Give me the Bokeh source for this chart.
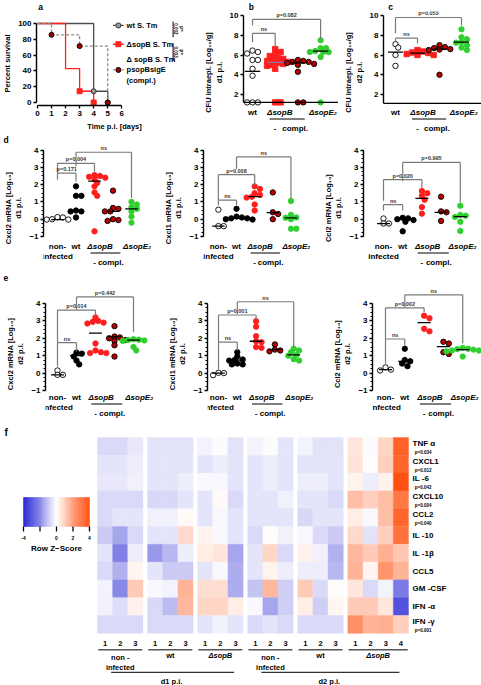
import math
from bokeh.plotting import figure
from bokeh.models import (Range1d, FixedTicker, Span, LinearColorMapper, ColumnDataSource)
from bokeh.layouts import column, row
from bokeh.embed import file_html
from bokeh.resources import INLINE
from bokeh.core.properties import value

FONT = "Liberation Sans"

# ---------------- a: survival ----------------
A_WT_DAYS = [0, 4, 5]
A_WT_SURV = [100, 14.3, 0]
A_SOPB_DAYS = [0, 2, 3, 4]
A_SOPB_SURV = [100, 42.9, 14.3, 0]
A_COMPL_DAYS = [0, 1, 3, 5]
A_COMPL_SURV = [100, 85.7, 71.4, 0]
A_LEGEND = ["wt S. Tm", "ΔsopB S. Tm", "Δ sopB S. Tm\npsopBsigE\n(compl.)"]
A_PVALUES = ["p=\n0.002", "p=\n0.013"]

# ---------------- b / c: CFU ----------------
BC_CATS = ["wt", "ΔsopB", "compl.", "ΔsopE₂"]
B_LOD = 1.2
B_WT = [6.45, 6.3, 6.15, 5.5, 5.5, 4.6, 3.9, 1.2, 1.2, 1.2]
B_SOPB = [6.6, 6.3, 6.1, 5.9, 5.7, 5.6, 5.5, 5.4, 5.3, 5.2, 5.1, 5.0, 4.9, 4.6, 1.2, 1.2]
B_COMPL = [5.5, 5.4, 5.3, 5.3, 5.2, 5.1, 5.0, 4.3, 1.2, 1.2]
B_SOPE2 = [7.5, 6.7, 6.7, 6.4, 6.3, 6.3, 6.3, 5.8, 1.2]
B_CENTER = [4.35, 5.25, 5.2, 6.4]
B_BRACKETS = [("ns", 1, 2, 8.2, 7.3, 6.9), ("p=0.082", 1, 4, 9.6, 9.0, 7.6)]

C_LOD = 1.1
C_WT = [7.1, 6.75, 6.0, 4.9]
C_SOPB = [6.5, 6.35, 6.25, 6.2, 6.1, 6.0, 6.0]
C_COMPL = [7.0, 6.8, 6.7, 6.6, 6.55, 6.5, 4.0]
C_SOPE2 = [8.6, 7.8, 7.6, 7.3, 7.25, 7.0, 6.75, 6.5]
C_CENTER = [6.3, 6.2, 6.6, 7.3]
C_BRACKETS = [("ns", 1, 2, 7.7, 7.3, 7.2), ("p=0.053", 1, 4, 9.8, 8.2, 9.0)]

# ---------------- d / e: mRNA ----------------
DE_CATS = ["non-\ninfected", "wt", "ΔsopB", "compl.", "ΔsopE₂"]

D1_NI = [0.12, 0.1, 0.0, -0.02, -0.02]
D1_WT = [1.9, 1.35, 1.35, 0.5, 0.45, 0.45, 0.1]
D1_SOPB = [2.55, 2.5, 2.45, 2.4, 2.3, 2.1, 1.9, 1.55, 1.35, -0.7]
D1_COMPL = [1.65, 0.65, 0.6, 0.45, 0.45, 0.0, -0.05, -0.1]
D1_SOPE2 = [1.0, 0.85, 0.7, 0.6, 0.45, 0.15, -0.2]
D1_CENTER = [-0.02, 0.45, 2.2, 0.45, 0.6]
D1_BRACKETS = [("p=0.171", 1, 2, 2.66, 2.28, 2.18), ("p=0.004", 1, 3, 3.23, 2.66, 2.75),
               ("ns", 2, 5, 3.87, 3.04, 1.22)]

D2_NI = [0.55, -0.4, -0.4]
D2_WT = [0.6, 0.15, 0.1, 0.05, 0.05, 0.0, -0.02]
D2_SOPB = [1.9, 1.75, 1.5, 1.4, 1.3, 1.25, 0.85, 0.5]
D2_COMPL = [1.55, 0.4, 0.3, 0.0]
D2_SOPE2 = [1.05, 0.25, 0.1, 0.08, 0.0, -0.55, -0.55]
D2_CENTER = [-0.4, 0.05, 1.3, 0.38, 0.08]
D2_BRACKETS = [("ns", 1, 2, 1.1, 0.8, 0.8), ("p=0.008", 1, 3, 2.58, 1.1, 1.96),
               ("ns", 2, 5, 3.6, 2.9, 1.2)]

D3_NI = [0.04, -0.25, -0.25]
D3_WT = [0.08, 0.05, 0.0, -0.05, -0.15, -0.7]
D3_SOPB = [1.63, 1.5, 1.35, 1.12, 0.7, 0.32]
D3_COMPL = [1.3, 0.45, 0.4, -0.1]
D3_SOPE2 = [0.78, 0.25, 0.2, 0.13, -0.15, -0.68]
D3_CENTER = [-0.25, 0.0, 1.2, 0.4, 0.15]
D3_BRACKETS = [("ns", 1, 2, 0.84, 0.5, 0.5), ("p=0.020", 1, 3, 2.29, 1.07, 1.82),
               ("p=0.995", 2, 5, 3.28, 2.2, 0.98)]

E1_NI = [0.15, -0.1, -0.1]
E1_WT = [1.18, 1.12, 0.95, 0.72, 0.5]
E1_SOPB = [3.2, 3.0, 2.95, 2.9, 2.85, 1.7, 1.3, 1.2, 1.15, 1.15]
E1_COMPL = [2.7, 2.1, 2.05, 2.0, 1.9, 1.85, 1.6, 0.95]
E1_SOPE2 = [1.95, 1.92, 1.9, 1.88, 1.85, 1.5, 1.3]
E1_CENTER = [-0.1, 1.0, 2.3, 2.1, 1.9]
E1_BRACKETS = [("ns", 1, 2, 1.75, 0.38, 1.24), ("p=0.014", 1, 3, 3.62, 1.75, 3.28),
               ("p=0.442", 2, 5, 4.38, 3.62, 2.38)]

E2_NI = [0.02, 0.0, -0.12]
E2_WT = [1.2, 0.95, 0.78, 0.75, 0.72, 0.55, 0.5, 0.5]
E2_SOPB = [2.98, 2.67, 2.12, 1.83, 1.78, 1.5, 1.45]
E2_COMPL = [1.65, 1.35, 1.3, 1.25]
E2_SOPE2 = [1.4, 1.3, 1.2, 1.05, 1.0, 0.8, 0.72]
E2_CENTER = [0.0, 0.75, 1.83, 1.35, 1.05]
E2_BRACKETS = [("ns", 1, 2, 1.78, 0.2, 1.3), ("p=0.001", 1, 3, 3.34, 1.78, 3.1),
               ("ns", 2, 5, 4.1, 3.4, 1.5)]

E3_NI = [0.33, 0.15, 0.2]
E3_WT = [1.4, 0.75, 0.68, 0.55, 0.4]
E3_SOPB = [3.3, 3.15, 2.55, 2.4]
E3_COMPL = [1.8, 1.7, 1.2, 1.1]
E3_SOPE2 = [1.45, 1.4, 1.38, 1.35, 1.3, 1.3, 1.25, 0.95]
E3_CENTER = [0.2, 0.67, 2.9, 1.52, 1.35]
E3_BRACKETS = [("ns", 1, 2, 1.96, 0.55, 1.6), ("p=0.002", 1, 3, 3.75, 1.96, 3.5),
               ("ns", 2, 5, 4.5, 3.75, 1.7)]

# ---------------- f: heatmap ----------------
ROW_LABELS = ["TNF α", "CXCL1", "IL -6", "CXCL10", "CCL2", "IL -10", "IL -1β", "CCL5",
              "GM -CSF", "IFN -α", "IFN -γ"]
ROW_PVALUES = ["p=0.034", "p=0.012", "p=0.042", "p=0.004", "p=0.040", "", "", "", "", "",
               "p=0.001"]
GROUP_NAMES = ["non -\ninfected", "wt", "ΔsopB", "non -\ninfected", "wt", "ΔsopB"]
GROUP_SIZES = [3, 3, 3, 3, 3, 4]
DAY_LABELS = ["d1  p.i.", "d2  p.i."]
DAY_GROUPS = [[0, 1, 2], [3, 4, 5]]
Z_TNFA = [-0.6, -0.6, -0.4, -0.5, -0.5, -0.5, -0.2, -0.05, -0.5, -0.2, -0.05, -0.45, -0.2, -0.5, -0.5, 0.5, -0.05, 0.9, 3.4]
Z_CXCL1 = [-0.45, -0.45, -0.3, -0.45, -0.45, -0.45, -0.45, -0.3, -0.45, -0.45, -0.3, -0.45, -0.45, -0.45, -0.45, 0.6, 0.05, 1.0, 3.3]
Z_IL6 = [-0.4, -0.4, -0.25, -0.45, -0.45, -0.3, -0.1, -0.1, -0.45, -0.45, -0.3, -0.45, -0.3, -0.3, -0.45, 0.25, -0.3, 0.3, 3.7]
Z_CXCL10 = [-0.6, -0.6, -0.6, -0.65, -0.65, -0.45, -0.45, 0.1, -0.6, -0.45, -0.45, -0.25, -0.45, -0.45, -0.6, 1.4, 1.0, 1.4, 2.9]
Z_CCL2 = [-0.6, -0.45, -0.45, -0.25, -0.25, 0.1, -0.45, -0.1, -0.45, -0.45, -0.45, -0.45, -0.65, -0.45, -0.45, 0.4, -0.1, 1.4, 3.3]
Z_IL10 = [-0.9, -1.5, -0.6, -0.45, -0.45, 0.8, 0.25, -0.1, -0.45, -0.6, 0.05, -0.25, -0.1, -0.6, -0.9, 0.8, -0.5, 1.0, 3.0]
Z_IL1B = [-0.45, -2.1, -0.3, -1.7, -1.2, -0.3, 0.4, 0.55, -1.5, -0.45, 0.9, -0.6, 0.3, -0.25, -1.3, 1.5, 1.1, 1.7, 1.2]
Z_CCL5 = [-0.6, -1.3, 0.2, -0.45, -0.9, -0.9, -0.45, -0.1, -1.4, -0.45, 0.25, -0.3, -0.3, -0.3, -1.2, 1.6, 0.2, 2.3, 1.6]
Z_GMCSF = [-0.2, -2.0, 1.1, -0.1, -0.2, 1.6, 0.7, 0.7, -1.4, -1.0, 1.5, -0.8, 1.1, -0.6, 0.05, 0.5, -0.6, -0.2, -2.2]
Z_IFNA = [-0.25, -0.55, 0.3, -0.65, -1.1, 1.5, 0.9, 0.9, 0.4, -0.1, -1.5, -0.8, 0.4, -0.8, 0.2, 1.1, 1.1, 0.5, -2.9]
Z_IFNG = [-0.6, -0.6, -0.6, -0.6, -0.6, -0.6, -0.45, -0.25, -0.45, -0.6, -0.45, -0.6, -0.6, -0.6, -0.6, 2.4, 1.6, 1.7, 1.0]
Z_ROWS = [Z_TNFA, Z_CXCL1, Z_IL6, Z_CXCL10, Z_CCL2, Z_IL10, Z_IL1B, Z_CCL5, Z_GMCSF, Z_IFNA, Z_IFNG]
CB_TICKS = [-4, -2, 0, 2, 4]
CB_LABELS = ["-4", "", "0", "2", "4"]

# ---------------- styles ----------------
MS = 5.4
STY = {
    "ni": ("circle", "white", "black"),
    "wt": ("circle", "black", "black"),
    "sopB": ("circle", "#ff1e1e", "#ff1e1e"),
    "compl": ("circle", "#b80000", "black"),
    "sopE2": ("circle", "#2fcf2f", "#2fcf2f"),
}


class Geo:
    def __init__(self, W, H, FL, FR, FT, FB, xv, xp, spx, v1, p1, v2, p2):
        self.W, self.H, self.FL, self.FR, self.FT, self.FB = W, H, FL, FR, FT, FB
        self.spx = spx
        self.x0 = xv - (xp - FL) / spx
        self.k = (v1 - v2) / (p2 - p1)
        self.y0 = v1 + (p1 - FT) * self.k

    def dx(self, px):
        return self.x0 + (px - self.FL) / self.spx

    def dy(self, py):
        return self.y0 - (py - self.FT) * self.k


def base_fig(g, x_axis=True):
    kw = {} if x_axis else {"x_axis_location": None}
    p = figure(width=g.W, height=g.H,
               x_range=Range1d(g.dx(g.FL), g.dx(g.W - g.FR)),
               y_range=Range1d(g.dy(g.FB), g.dy(g.FT)),
               output_backend="svg", toolbar_location=None,
               min_border_left=g.FL, min_border_right=g.FR,
               min_border_top=g.FT, min_border_bottom=g.H - g.FB, **kw)
    p.xgrid.visible = False
    p.ygrid.visible = False
    p.outline_line_color = None
    p.background_fill_color = "white"
    p.border_fill_color = "white"
    return p


def style_axis(ax, size="8px", lsize="7.5px"):
    ax.major_label_text_font = FONT
    ax.major_label_text_font_style = "bold"
    ax.major_label_text_font_size = size
    ax.major_label_text_color = "black"
    ax.axis_label_text_font = FONT
    ax.axis_label_text_font_style = "bold"
    ax.axis_label_text_font_size = lsize
    ax.axis_label_text_color = "black"
    ax.axis_line_width = 1.4
    ax.axis_line_color = "black"
    ax.major_tick_line_color = "black"
    ax.major_tick_line_width = 1.3
    ax.minor_tick_line_color = "black"
    ax.major_label_standoff = 2
    ax.axis_label_standoff = 3
    ax.major_tick_in = 0
    ax.major_tick_out = 3
    ax.minor_tick_in = 0
    ax.minor_tick_out = 2


def txt(p, xs, ys, texts, size="6px", align="center", baseline="middle", color="black",
        style="bold", angle=0, **kw):
    p.text(xs, ys, text=texts, text_font=value(FONT), text_font_size=size,
           text_font_style=style, text_align=align, text_baseline=baseline,
           text_color=color, angle=angle, **kw)


def swarm(vals, xc, spx, spy, d=MS):
    order = sorted(range(len(vals)), key=lambda i: -vals[i])
    placed = []
    out = [xc] * len(vals)
    for i in order:
        ypx = vals[i] * spy
        xo = 0.0
        for kk in [0, 1, -1, 2, -2, 3, -3, 4, -4, 5, -5, 6, -6]:
            xo = kk * d * 0.5
            if all((xo - a) ** 2 + (ypx - b) ** 2 >= (d * 0.8) ** 2 for a, b in placed):
                break
        placed.append((xo, ypx))
        out[i] = xc + xo / spx
    return out


def scatter_panel(g, groups, centers, brackets, ylabel, yticks, yminor, ybounds,
                  cats, cat_x, y_lab, ul, dshift, lod=None, center_colors=None):
    p = base_fig(g, x_axis=False)
    if lod is not None:
        p.add_layout(Span(location=lod, dimension="width", line_color="black", line_width=1.4))
    for gi, (xc, vals, key, marker) in enumerate(groups):
        m, fc, lc = STY[key]
        xs = swarm(vals, xc, g.spx, 1.0 / g.k)
        p.scatter(xs, vals, size=MS, marker=marker or m, fill_color=fc, line_color=lc,
                  line_width=0.9)
    cx = [grp[0] for grp in groups]
    cc = center_colors or ["black"] * len(groups)
    p.segment([x - 0.34 for x in cx], centers, [x + 0.34 for x in cx], centers,
              line_color=cc, line_width=1.3)
    # brackets
    x0s, y0s, x1s, y1s, tx, ty, tt = [], [], [], [], [], [], []
    for lab, xa, xb, yt, ya, yb in brackets:
        x0s += [xa, xa, xb]
        y0s += [yt, yt, yt]
        x1s += [xb, xa, xb]
        y1s += [yt, ya, yb]
        tx.append((xa + xb) / 2)
        ty.append(yt + 1.0 * g.k)
        tt.append(lab)
    p.segment(x0s, y0s, x1s, y1s, line_color="#7a7a7a", line_width=1.2)
    txt(p, tx, ty, tt, size="5.5px", baseline="bottom", color="#333333")
    # y axis
    ya_ = p.yaxis[0]
    style_axis(ya_)
    ya_.ticker = FixedTicker(ticks=yticks, minor_ticks=yminor)
    ya_.bounds = ybounds
    ya_.axis_label = ylabel
    # category labels (below the data, drawn through the scales)
    plain = [(cat_x[i], c) for i, c in enumerate(cats) if "Δ" not in c and c != "compl."]
    delta = [(cat_x[i], c) for i, c in enumerate(cats) if "Δ" in c]
    ly = g.dy(y_lab)
    for x, c in plain:
        if "\n" in c:
            txt(p, [x], [g.dy(y_lab - 5)], [c], size="8px", baseline="top")
        else:
            txt(p, [x], [ly], [c], size="8px")
    txt(p, [d[0] + sh for d, sh in zip(delta, dshift)], [ly] * len(delta),
        [d[1] for d in delta], size="8px", style="bold italic")
    # "- compl." line under the deletion mutant
    i_sb = cats.index("ΔsopB")
    i_cp = cats.index("compl.")
    uy = g.dy(y_lab + 6.5)
    p.segment([cat_x[i_sb] + ul[0]], [uy], [cat_x[i_cp] + ul[1]], [uy], line_color="black",
              line_width=1.1)
    cy = g.dy(y_lab + 15.5)
    txt(p, [cat_x[i_sb], cat_x[i_cp] - 0.12], [cy, cy], ["-", cats[i_cp]], size="8px")
    return p


# ================= letter strips =================
SH = 11


def strip(w, letters):
    s = figure(width=w, height=SH, x_range=Range1d(0, w), y_range=Range1d(SH, 0),
               output_backend="svg", toolbar_location=None, x_axis_location=None,
               y_axis_location=None, min_border=0, min_border_left=0, min_border_right=0,
               min_border_top=0, min_border_bottom=0)
    s.xgrid.visible = False
    s.ygrid.visible = False
    s.outline_line_color = None
    txt(s, [l[1] for l in letters], [SH / 2] * len(letters), letters and [l[0] for l in letters],
        size="8.5px", align="left", baseline="middle")
    return s


strip_a = strip(192, [("a", 2)])
strip_b = strip(146, [("b", 8)])
strip_c = strip(143, [("c", 7)])
strip2 = strip(481, [("d", 3)])
strip3 = strip(481, [("e", 3)])

# ================= panel a =================
OY1 = SH
ga = Geo(192, 133 - OY1, 31, 0, 21 - OY1, 106 - OY1, 0, 32, 14.5, 100, 23 - OY1, 0, 103 - OY1)
pa = base_fig(ga)


def km_path(days, surv):
    xs, ys = [days[0]], [surv[0]]
    for i in range(1, len(days)):
        xs += [days[i], days[i]]
        ys += [surv[i - 1], surv[i]]
    return xs, ys


for days, surv, col, dash in [(A_WT_DAYS, A_WT_SURV, "#4d4d4d", "solid"),
                              (A_SOPB_DAYS, A_SOPB_SURV, "#ff2020", "solid"),
                              (A_COMPL_DAYS, A_COMPL_SURV, "#8c8c8c", "3 2")]:
    xs, ys = km_path(days, surv)
    pa.line(xs, ys, line_color=col, line_width=1.3, line_dash=dash)
pa.scatter(A_WT_DAYS[1:], A_WT_SURV[1:], marker="circle", size=5, fill_color="#9a9a9a",
           line_color="#333333", line_width=1)
pa.scatter(A_SOPB_DAYS[2:], A_SOPB_SURV[2:], marker="square", size=5, fill_color="#ff2020",
           line_color="#ff2020")
pa.scatter(A_COMPL_DAYS[1:], A_COMPL_SURV[1:], marker="circle", size=5, fill_color="#a00000",
           line_color="black", line_width=1)
# legend drawn in the frame
leg_y = [ga.dy(25 - OY1), ga.dy(44 - OY1), ga.dy(70 - OY1)]
lx0, lx1, lxm, ltx = ga.dx(110), ga.dx(121), ga.dx(115.5), ga.dx(124)
pa.segment([lx0, lx0], leg_y[:2], [lx1, lx1], leg_y[:2], line_color=["#4d4d4d", "#ff2020"],
           line_width=1.3)
pa.segment([lx0], [leg_y[2]], [lx1], [leg_y[2]], line_color="#8c8c8c", line_width=1.2,
           line_dash="2 1")
pa.scatter([lxm], [leg_y[0]], marker="circle", size=5, fill_color="#9a9a9a", line_color="#333333")
pa.scatter([lxm], [leg_y[1]], marker="square", size=5, fill_color="#ff2020", line_color="#ff2020")
pa.scatter([lxm], [leg_y[2]], marker="circle", size=5, fill_color="#a00000", line_color="black")
txt(pa, [ltx, ltx, ltx], leg_y, A_LEGEND, size="7.5px", align="left")
# p-value bars
bx = ga.dx(172)
pa.segment([bx, bx], [ga.dy(20 - OY1), ga.dy(43 - OY1)], [bx, bx],
           [ga.dy(37 - OY1), ga.dy(61 - OY1)], line_color="black", line_width=1)
txt(pa, [ga.dx(178), ga.dx(178)], [ga.dy(28.5 - OY1), ga.dy(52 - OY1)], A_PVALUES,
    size="4.5px", angle=-math.pi / 2)
style_axis(pa.xaxis[0])
style_axis(pa.yaxis[0])
pa.xaxis.ticker = FixedTicker(ticks=[0, 1, 2, 3, 4, 5, 6])
pa.xaxis.bounds = (0, 6)
pa.yaxis.ticker = FixedTicker(ticks=[0, 20, 40, 60, 80, 100])
pa.yaxis.bounds = (0, 100)
pa.xaxis.axis_label = "Time p.i. [days]"
pa.yaxis.axis_label = "Percent survival"
pa.xaxis.minor_tick_line_color = None
pa.yaxis.minor_tick_line_color = None

# ================= panel b / c =================
BC_X = [1, 2, 3, 4]
gb = Geo(146, 133 - OY1, 51, 0, 0, 133 - OY1, 1, 60, 22.7, 10, 15 - OY1, 2, 94 - OY1)
pb = scatter_panel(gb, [(1, B_WT, "ni", None), (2, B_SOPB, "sopB", "square"),
                        (3, B_COMPL, "compl", None), (4, B_SOPE2, "sopE2", None)],
                   B_CENTER, B_BRACKETS, "CFU intraepi. [Log₁₀/g]\nd1 p.i.",
                   [2, 4, 6, 8, 10], [], (B_LOD, 10), BC_CATS, BC_X, 112 - OY1,
                   (-0.25, 0.3), (0.2, 0.1), lod=B_LOD,
                   center_colors=["black", "#7a7fa8", "black", "black"])

gc = Geo(143, 133 - OY1, 45, 0, 0, 133 - OY1, 1, 57, 22, 10, 15 - OY1, 2, 94 - OY1)
pc = scatter_panel(gc, [(1, C_WT, "ni", None), (2, C_SOPB, "sopB", "square"),
                        (3, C_COMPL, "compl", None), (4, C_SOPE2, "sopE2", None)],
                   C_CENTER, C_BRACKETS, "CFU intraepi. [Log₁₀/g]\nd2 p.i.",
                   [2, 4, 6, 8, 10], [], (C_LOD, 10), BC_CATS, BC_X, 112 - OY1,
                   (-0.25, 0.3), (0.25, 0.1), lod=C_LOD)

# ================= panels d / e =================
YT = [-1, 0, 1, 2, 3, 4]
YM = [-1 + 0.25 * i for i in range(21)]
DE_X = [1, 2, 3, 4, 5]


def de_panel(geo, ni, wt, sb, cp, se, center, br, ylabel, ylab, dshift=(0.3, 0.3)):
    return scatter_panel(geo, [(1, ni, "ni", None), (2, wt, "wt", None), (3, sb, "sopB", None),
                               (4, cp, "compl", None), (5, se, "sopE2", None)],
                         center, br, ylabel, YT, YM, (-1, 4), DE_CATS, DE_X, ylab,
                         (-0.22, 0.4), dshift)


OY2 = 133 + SH
H2 = 271 - OY2
gd1 = Geo(160, H2, 43, 0, 0, H2, 1, 57, 18.5, 4, 149.5 - OY2, -1, 236 - OY2)
gd2 = Geo(160, H2, 42, 0, 0, H2, 1, 57, 18.3, 4, 149.5 - OY2, -1, 236 - OY2)
gd3 = Geo(161, H2, 43, 0, 0, H2, 1, 63, 19.2, 4, 149.5 - OY2, -1, 236 - OY2)
pd1 = de_panel(gd1, D1_NI, D1_WT, D1_SOPB, D1_COMPL, D1_SOPE2, D1_CENTER, D1_BRACKETS,
               "Cxcl2 mRNA [Log₁₀]\nd1 p.i.", 246 - OY2)
pd2 = de_panel(gd2, D2_NI, D2_WT, D2_SOPB, D2_COMPL, D2_SOPE2, D2_CENTER, D2_BRACKETS,
               "Cxcl1 mRNA [Log₁₀]\nd1 p.i.", 246 - OY2)
pd3 = de_panel(gd3, D3_NI, D3_WT, D3_SOPB, D3_COMPL, D3_SOPE2, D3_CENTER, D3_BRACKETS,
               "Ccl2 mRNA [Log₁₀]\nd1 p.i.", 246 - OY2, (0.3, 0.12))

OY3 = 271 + SH
H3 = 425 - OY3
ge1 = Geo(160, H3, 45, 0, 0, H3, 1, 57, 19, 4, 303 - OY3, -1, 390 - OY3)
ge2 = Geo(160, H3, 47, 0, 0, H3, 1, 58, 18.8, 4, 303 - OY3, -1, 390 - OY3)
ge3 = Geo(161, H3, 52, 0, 0, H3, 1, 65, 19.3, 4, 303 - OY3, -1, 390 - OY3)
pe1 = de_panel(ge1, E1_NI, E1_WT, E1_SOPB, E1_COMPL, E1_SOPE2, E1_CENTER, E1_BRACKETS,
               "Cxcl2 mRNA [Log₁₀]\nd2 p.i.", 397 - OY3)
pe2 = de_panel(ge2, E2_NI, E2_WT, E2_SOPB, E2_COMPL, E2_SOPE2, E2_CENTER, E2_BRACKETS,
               "Cxcl1 mRNA [Log₁₀]\nd2 p.i.", 397 - OY3)
pe3 = de_panel(ge3, E3_NI, E3_WT, E3_SOPB, E3_COMPL, E3_SOPE2, E3_CENTER, E3_BRACKETS,
               "Ccl2 mRNA [Log₁₀]\nd2 p.i.", 397 - OY3, (0.3, 0.1))

# ================= panel f: heatmap =================
HTOP = 425
HX0, HXS = 97.0, 15.17     # px of column origin, px per column
HY0, HYS = 437.0, 17.8     # px of first row top, px per row


def hx(px):
    return (px - HX0) / HXS


def hr(py):
    return (py - HY0) / HYS


CB_X0, CB_S = 23.0, 8.25


def cz(px):
    return -4 + (px - CB_X0) / CB_S


ph = figure(width=481, height=685 - HTOP, x_range=Range1d(hx(0), hx(481)),
            y_range=Range1d(hr(685), hr(HTOP)), output_backend="svg",
            toolbar_location=None, x_axis_location=None, y_axis_location=None,
            min_border=0, min_border_left=0, min_border_right=0, min_border_top=0,
            min_border_bottom=0)
ph.extra_x_ranges = {"cb": Range1d(cz(0), cz(481))}
ph.xgrid.visible = False
ph.ygrid.visible = False
ph.outline_line_color = None


def lerp(c1, c2, t):
    return "#%02x%02x%02x" % tuple(int(round(a + (b - a) * t)) for a, b in zip(c1, c2))


BLUE, WHITE, ORANGE = (16, 16, 208), (255, 255, 255), (255, 69, 0)
PAL = []
for i in range(256):
    zz = -4 + 8 * i / 255
    PAL.append(lerp(BLUE, WHITE, (zz + 4) / 4) if zz < 0 else lerp(WHITE, ORANGE, zz / 4))
mapper = LinearColorMapper(palette=PAL, low=-4, high=4)

GAP = 0.3
starts = []
s = 0.0
for n in GROUP_SIZES:
    starts.append(s)
    s += n + GAP
xs, ys, zs = [], [], []
for r, zrow in enumerate(Z_ROWS):
    c = 0
    for gi, n in enumerate(GROUP_SIZES):
        for j in range(n):
            xs.append(starts[gi] + j + 0.5)
            ys.append(r + 0.5)
            zs.append(zrow[c])
            c += 1
src = ColumnDataSource(dict(x=xs, y=ys, z=zs))
ph.rect("x", "y", 1.0, 1.0, source=src, fill_color={"field": "z", "transform": mapper},
        line_color={"field": "z", "transform": mapper}, line_width=0.4)

nrows = len(Z_ROWS)
cnx, cnt = [], []
for gi, n in enumerate(GROUP_SIZES):
    for j in range(n):
        cnx.append(starts[gi] + j + 0.5)
        cnt.append(str(j + 1))
txt(ph, cnx, [nrows + 0.57] * len(cnx), cnt, size="7.5px")
gx0 = [starts[gi] + 0.05 for gi in range(len(GROUP_SIZES))]
gx1 = [starts[gi] + GROUP_SIZES[gi] - 0.05 for gi in range(len(GROUP_SIZES))]
ph.segment(gx0, [nrows + 0.92] * len(gx0), gx1, [nrows + 0.92] * len(gx0),
           line_color="#555555", line_width=1.4)
gcx = [(a + b) / 2 for a, b in zip(gx0, gx1)]
plain_g = [i for i, nm in enumerate(GROUP_NAMES) if "Δ" not in nm]
delta_g = [i for i, nm in enumerate(GROUP_NAMES) if "Δ" in nm]
txt(ph, [gcx[i] for i in plain_g],
    [nrows + 1.64 if "\n" in GROUP_NAMES[i] else nrows + 1.22 for i in plain_g],
    [GROUP_NAMES[i] for i in plain_g], size="7.5px")
txt(ph, [gcx[i] for i in delta_g], [nrows + 1.22] * len(delta_g),
    [GROUP_NAMES[i] for i in delta_g], size="7.5px", style="bold italic")
dx0 = [gcx[dg[0]] - 0.6 for dg in DAY_GROUPS]
dx1 = [gx1[dg[-1]] - 0.55 for dg in DAY_GROUPS]
ph.segment(dx0, [nrows + 2.2] * 2, dx1, [nrows + 2.2] * 2, line_color="#333333", line_width=1.2)
txt(ph, [(a + b) / 2 for a, b in zip(dx0, dx1)], [nrows + 2.72] * 2, DAY_LABELS, size="7.5px")
lx = starts[-1] + GROUP_SIZES[-1] + 0.27
ly = [r + 0.5 - (0.17 if ROW_PVALUES[r] else 0) for r in range(nrows)]
txt(ph, [lx] * nrows, ly, ROW_LABELS, size="8px", align="left")
pr = [r for r in range(nrows) if ROW_PVALUES[r]]
txt(ph, [lx + 0.15] * len(pr), [r + 0.83 for r in pr], [ROW_PVALUES[r] for r in pr],
    size="4.5px", align="left")
CBN = 64
cbz = [-4 + 8 * (i + 0.5) / CBN for i in range(CBN)]
cbsrc = ColumnDataSource(dict(x=cbz, z=cbz))
cb_top, cb_bot = hr(497), hr(526)
ph.rect("x", (cb_top + cb_bot) / 2, 8.0 / CBN, cb_bot - cb_top, source=cbsrc,
        fill_color={"field": "z", "transform": mapper},
        line_color={"field": "z", "transform": mapper}, line_width=0.4, x_range_name="cb")
ph.segment(CB_TICKS, [cb_bot] * 5, CB_TICKS, [hr(531)] * 5, line_color="black",
           line_width=1.3, x_range_name="cb")
txt(ph, CB_TICKS, [hr(537)] * 5, CB_LABELS, size="5px", x_range_name="cb")
txt(ph, [0], [hr(548)], ["Row Z−Score"], size="8px", x_range_name="cb")
txt(ph, [hx(4)], [hr(432)], ["f"], size="10px", align="left")

layout = column(row(column(strip_a, pa), column(strip_b, pb), column(strip_c, pc)),
                strip2, row(pd1, pd2, pd3), strip3, row(pe1, pe2, pe3), ph)
open("out.html", "w").write(file_html(layout, INLINE))
